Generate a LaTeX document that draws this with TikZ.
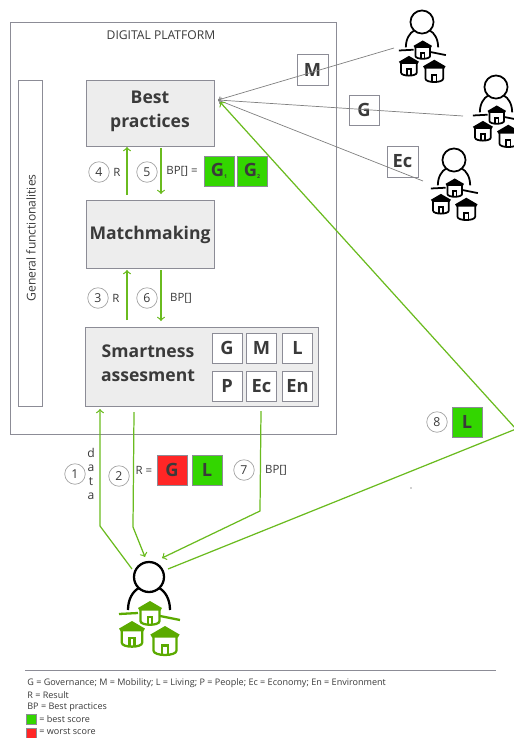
\documentclass[tikz,border=0pt]{standalone}
\usepackage{fontspec}
\usepackage{tikz}
\usetikzlibrary{arrows}
\setmainfont{Open Sans}
\definecolor{boxgrey}{HTML}{EDEDED}
\definecolor{edgegrey}{HTML}{8C8C96}
\definecolor{textgrey}{HTML}{3A3A3A}
\definecolor{linegreen}{HTML}{6ABB1F}
\definecolor{scoregreen}{HTML}{33D600}
\definecolor{scorered}{HTML}{FF2626}
\definecolor{hutgreen}{HTML}{5BAA00}
\tikzset{
	mainbox/.style={draw=edgegrey, fill=boxgrey, line width=0.5pt, inner sep=0pt},
	headtext/.style={inner sep=0pt, align=center, text=textgrey, font=\bfseries\fontsize{10}{13.6}\selectfont},
	scorebox/.style={draw=edgegrey, fill=white, line width=0.5pt, minimum size=0.6cm, inner sep=0pt, text=textgrey, font=\bfseries\fontsize{10.4}{12}\selectfont},
	stepnum/.style={circle, draw=gray!70, fill=white, line width=0.4pt, minimum size=0.41cm, inner sep=0pt, text=textgrey, font=\fontsize{7}{8}\selectfont},
	lab/.style={inner sep=0pt, text=textgrey, font=\fontsize{6.5}{7}\selectfont},
	legend/.style={inner sep=0pt, anchor=west, text=textgrey, font=\fontsize{5.15}{7}\selectfont},
	flow/.style={draw=linegreen, line width=0.7pt, ->},
	link/.style={draw=gray, line width=0.4pt, ->}
}
\newcommand{\hut}[5]{
	\begin{scope}[shift={(#1,#2)}, scale=#3]
		\filldraw[fill=white, draw=#4, line width=#5] (-9.5,9) -- (-9.5,20) .. controls (-9.5,25) and (9.5,25) .. (9.5,20) -- (9.5,9);
		\draw[draw=#4, line width=#5] (-2.2,23.5) -- (-2.2,16) -- (2.2,16) -- (2.2,23.5);
		\fill[#4] (0,0) -- (12,7) -- (10.5,9.5) -- (-10.5,9.5) -- (-12,7) -- cycle;
	\end{scope}
}
\newcommand{\villager}[5]{
	\begin{scope}[shift={(#1,#2)}, scale=#3]
		\draw[black, line width=#5] (0,0) circle (15);
		\draw[black, line width=#5] (-21,33) .. controls (-21,22) and (-16,14) .. (-10,11);
		\draw[black, line width=#5] (21,33) .. controls (21,22) and (16,14) .. (10,11);
		\draw[#4, line width=#5] (-30,37) -- (-11,36);
		\draw[#4, line width=#5] (11,39) -- (31,43);
		\hut{1}{24}{1}{#4}{#5}
		\hut{-17}{44}{1.08}{#4}{#5}
		\hut{16}{49}{1.22}{#4}{#5}
	\end{scope}
}

\begin{document}
\begin{tikzpicture}[x=0.02cm, y=-0.02cm]
	\useasboundingbox (0,0) rectangle (514,738);
	\clip (0,0) rectangle (514,738);

	% platform
	\node[draw=edgegrey, line width=0.5pt, minimum width=6.52cm, minimum height=8.24cm, inner sep=0pt] (platform) at (173,228) {};
	\node[lab, font=\fontsize{6.9}{8}\selectfont] (platformtitle) at (161,35) {DIGITAL PLATFORM};
	\node[draw=edgegrey, line width=0.5pt, minimum width=0.48cm, minimum height=6.52cm, inner sep=0pt] (general) at (30,243) {};
	\node[lab, rotate=90, font=\fontsize{6.9}{8}\selectfont] (generaltext) at (31,238) {General functionalities};

	\node[mainbox, minimum width=2.56cm, minimum height=1.32cm] (bestpractices) at (150,113) {};
	\node[headtext] (bestpracticestext) at (150,111) {Best\\practices};
	\node[mainbox, minimum width=2.56cm, minimum height=1.36cm] (matchmaking) at (150,234) {};
	\node[headtext] (matchmakingtext) at (150,235) {Matchmaking};
	\node[mainbox, minimum width=4.66cm, minimum height=1.58cm] (smartness) at (201.5,366.5) {};
	\node[headtext] (smartnesstext) at (148,363) {Smartness\\assesment};

	% the six dimensions
	\node[scorebox] (dimg) at (227,348) {G};
	\node[scorebox] (dimm) at (261.5,348) {M};
	\node[scorebox] (diml) at (297.5,348) {L};
	\node[scorebox] (dimp) at (227,386) {P};
	\node[scorebox] (dimec) at (261.5,386) {Ec};
	\node[scorebox] (dimen) at (297.5,386) {En};

	% villagers
	\villager{149}{577}{1}{hutgreen}{1.3pt}
	\villager{422}{22}{0.77}{black}{1pt}
	\villager{496}{87}{0.77}{black}{1pt}
	\villager{454}{160}{0.77}{black}{1pt}

	% free ends
	\coordinate (bpin) at (218,100);
	\coordinate (mfrom) at (394,48);
	\coordinate (gfrom) at (463,116);
	\coordinate (ecfrom) at (423,181);
	\coordinate (up4a) at (127,195);
	\coordinate (up4b) at (127,147);
	\coordinate (down5a) at (161,148);
	\coordinate (down5b) at (161,194);
	\coordinate (up3a) at (127,320);
	\coordinate (up3b) at (127,270);
	\coordinate (down6a) at (161,270);
	\coordinate (down6b) at (161,321);
	\coordinate (data1) at (132,569);
	\coordinate (data2) at (100,526);
	\coordinate (data3) at (100,409);
	\coordinate (res1) at (134,412);
	\coordinate (res2) at (133,527);
	\coordinate (res3) at (145,557);
	\coordinate (bp1) at (261,411);
	\coordinate (bp2) at (260,511);
	\coordinate (bp3) at (162,558);
	\coordinate (best1) at (168,569);
	\coordinate (best2) at (516,429);
	\coordinate (best3) at (220,102);

	% connectors
	\node[scorebox, minimum size=0.62cm] (boxm) at (312.5,69.5) {M};
	\node[scorebox] (boxg) at (364,110) {G};
	\node[scorebox, minimum size=0.62cm] (boxec) at (402.5,161.5) {Ec};
	\draw[link] (mfrom) -- (bpin);
	\draw[link] (gfrom) -- (bpin);
	\draw[link] (ecfrom) -- (bpin);
	\draw[flow] (up4a) -- (up4b);
	\draw[flow] (down5a) -- (down5b);
	\draw[flow] (up3a) -- (up3b);
	\draw[flow] (down6a) -- (down6b);
	\draw[flow] (data1) -- (data2) -- (data3);
	\draw[flow] (res1) -- (res2) -- (res3);
	\draw[flow] (bp1) -- (bp2) -- (bp3);
	\draw[flow] (best1) -- (best2) -- (best3);

	% step numbers and labels
	\node[stepnum] (step4) at (99,172) {4};
	\node[lab] (r4) at (117,172) {R};
	\node[stepnum] (step5) at (147,172) {5};
	\node[lab] (bpeq) at (182,171) {BP[] =};
	\node[scorebox, fill=scoregreen] (gone) at (219,171) {G\raisebox{-1pt}{\fontsize{3}{3}\selectfont 1}};
	\node[scorebox, fill=scoregreen] (gtwo) at (252,171) {G\raisebox{-1pt}{\fontsize{3}{3}\selectfont 2}};
	\node[stepnum] (step3) at (98,298) {3};
	\node[lab] (r3) at (116,298) {R};
	\node[stepnum] (step6) at (147,298) {6};
	\node[lab] (bp6) at (181,298) {BP[]};
	\node[stepnum] (step1) at (75,474) {1};
	\node[lab, align=center, font=\fontsize{6.9}{7.8}\selectfont] (datatext) at (91,474) {d\\a\\t\\a};
	\node[stepnum] (step2) at (119,476) {2};
	\node[lab] (req) at (144,470) {R =};
	\node[scorebox, fill=scorered] (redg) at (172,470) {G};
	\node[scorebox, fill=scoregreen] (greenl) at (207,470) {L};
	\node[stepnum] (step7) at (244,470) {7};
	\node[lab] (bp7) at (276,470) {BP[]};
	\node[stepnum] (step8) at (437,422) {8};
	\node[scorebox, fill=scoregreen] (greenl8) at (467,422) {L};
	\fill[textgrey] (411,488) circle (0.6);

	% legend
	\draw[edgegrey, line width=0.5pt] (25,670) -- (496,670);
	\node[legend] (leg1) at (27,683) {G = Governance; M = Mobility; L = Living; P = People; Ec = Economy; En = Environment};
	\node[legend] (leg2) at (27,695) {R = Result};
	\node[legend] (leg3) at (27,707) {BP = Best practices};
	\node[draw=edgegrey, fill=scoregreen, line width=0.4pt, minimum size=0.2cm, inner sep=0pt] (leggreen) at (31,719) {};
	\node[legend] (leg4) at (39,719.5) {= best score};
	\node[draw=edgegrey, fill=scorered, line width=0.4pt, minimum size=0.2cm, inner sep=0pt] (legred) at (31,733) {};
	\node[legend] (leg5) at (39,732) {= worst score};
\end{tikzpicture}
\end{document}
